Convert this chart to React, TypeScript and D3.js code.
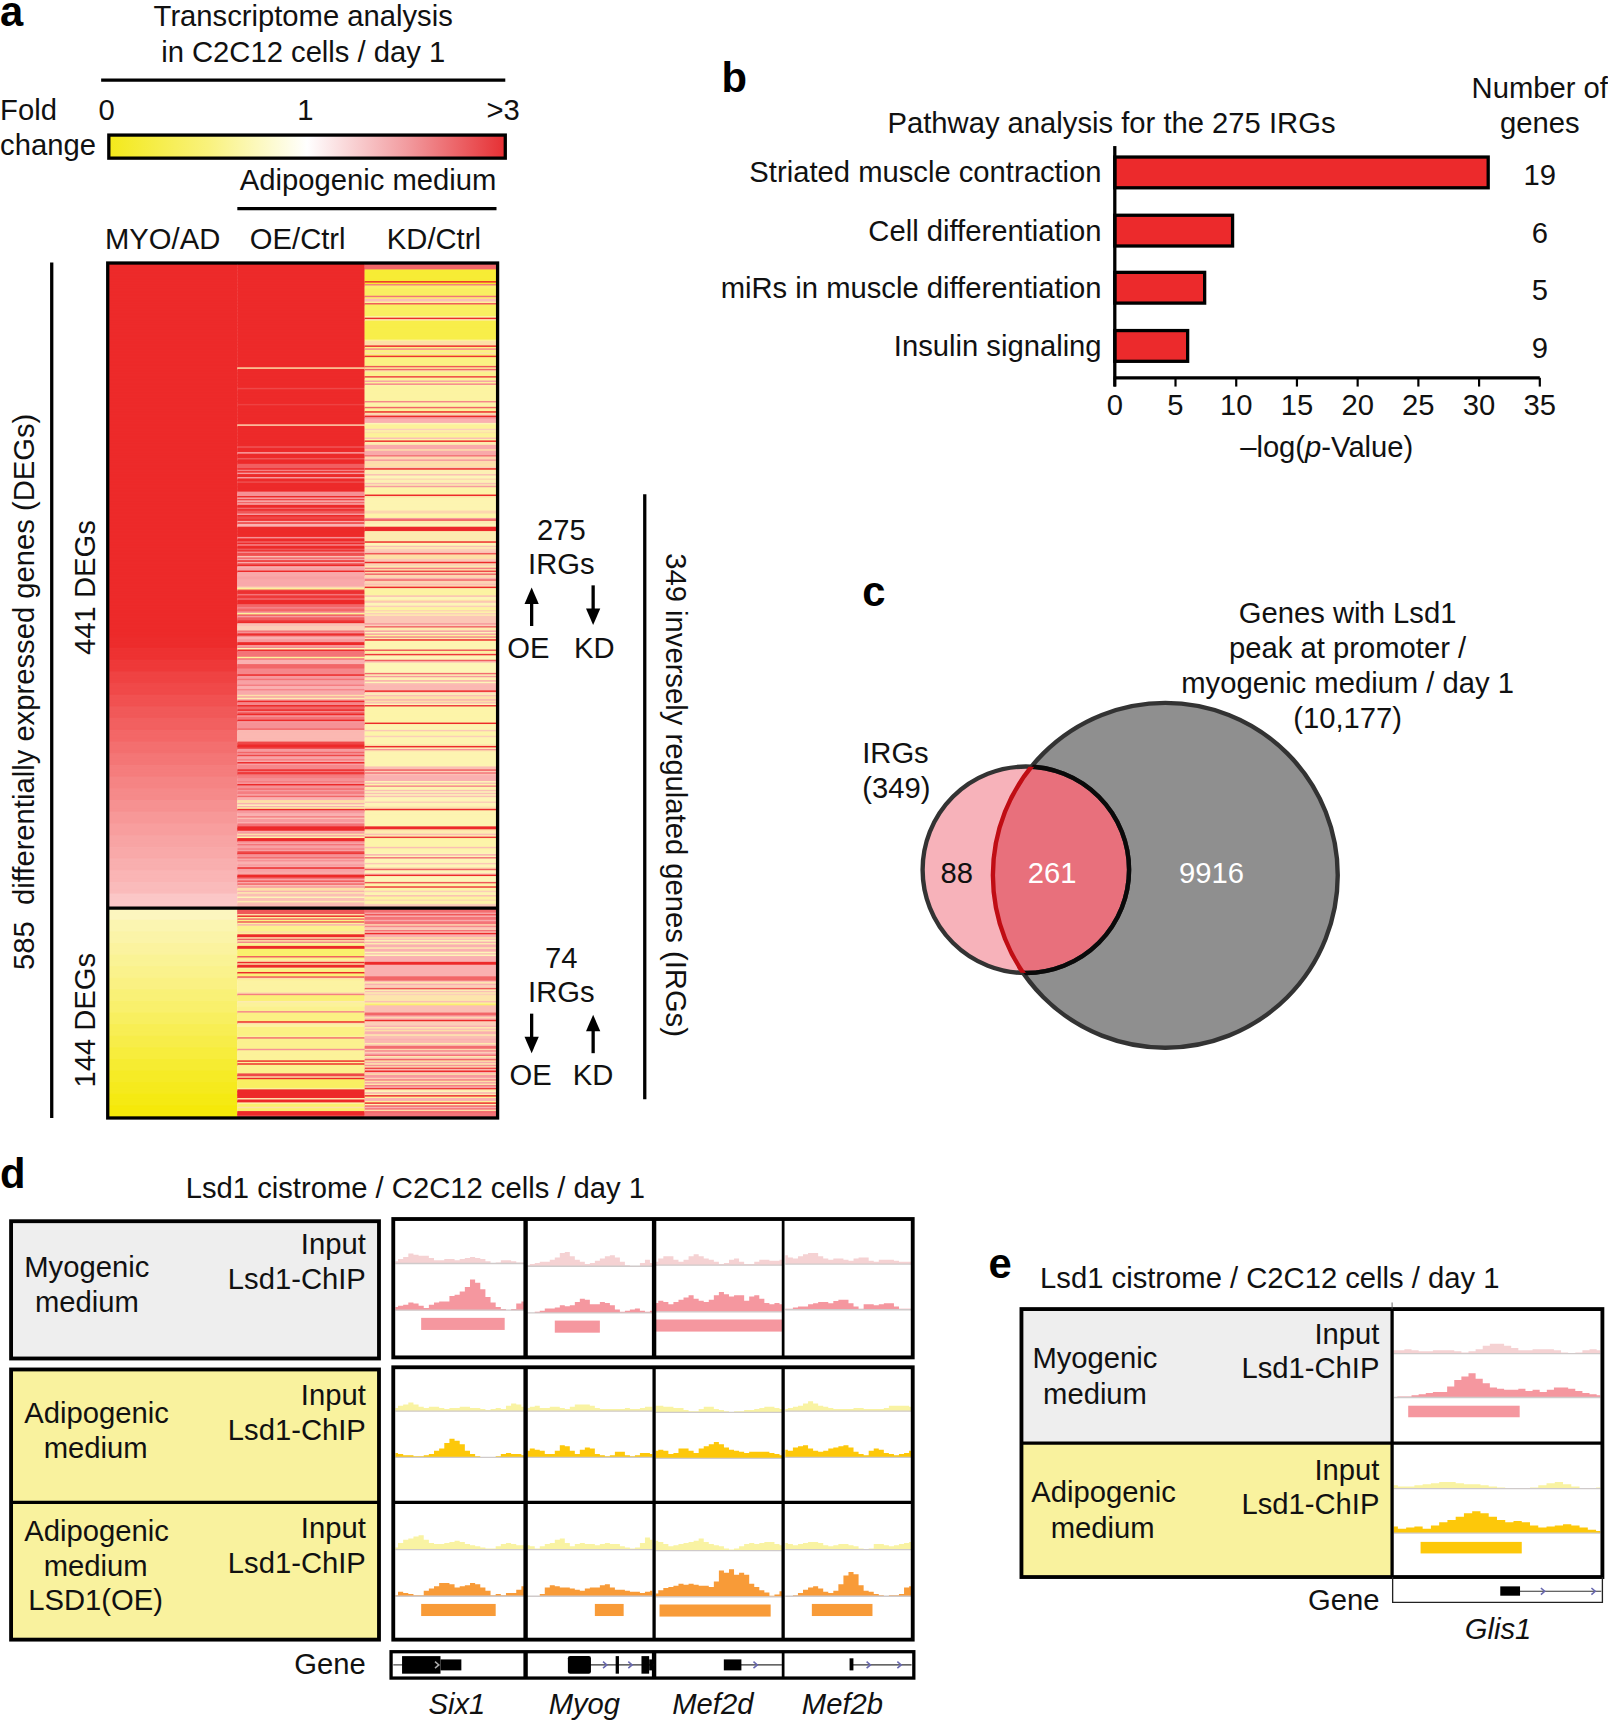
import React from 'react';
import * as d3 from 'd3';

// ---------- Panel a: fold change per gene, run-length coded as [genes, fold change]
const myoUp: [number, number][] = [[255,3],[8,2.98],[8,2.92],[8,2.85],[8,2.75],[8,2.68],[8,2.6],[8,2.52],[8,2.45],[8,2.38],[8,2.3],[8,2.22],[8,2.15],[8,2.08],[8,2.02],[8,1.95],[8,1.88],[8,1.82],[8,1.76],[8,1.7],[8,1.64],[8,1.58],[8,1.52],[10,1.4]];
const myoDown: [number, number][] = [[8,.78],[8,.72],[8,.68],[8,.64],[8,.6],[8,.56],[8,.52],[8,.47],[8,.42],[8,.37],[8,.32],[8,.27],[8,.22],[8,.17],[8,.12],[8,.08],[8,.04],[8,0]];
const oeUp: [number, number][] = [
[71,3],[1,.9],[13,3],[1,2.6],[10,3],[1,2.7],[13,3],[1,1],[14,3],[1,2.4],[3,3],[1,1.5],[3,3],[1,2.4],[3,3],
[3,2.3],[1,3],[1,1.9],[1,3],[1,1.6],[2,3],[1,1.6],[2,3],[1,2.5],[6,3],
[3,1.7],[1,3],[1,1.5],[1,2.6],[1,1.3],[1,2.2],[1,1.4],[2,3],[1,2.2],[1,3],[2,2.4],[1,1.6],[1,3],[2,2.6],[1,3],[1,1.4],[1,2.8],[2,1.3],[2,3],[5,3],[1,1.7],[2,3],[1,2.2],[1,3],[1,1.8],[2,3],[1,2.4],[1,2.9],[1,1.8],[2,2.5],
[1,1.2],[1,2.2],[1,1.5],[1,3],[1,1.4],[1,2.4],[1,3],[1,1.3],[2,1.5],[1,3],[3,1.4],[2,1.5],[5,1.4],[1,1],[1,.5],[1,2.7],
[2,2.9],[1,2],[2,2.8],[1,2.1],[3,3],[2,2.2],[1,1.8],[2,2.2],[1,1.6],[1,.5],[1,2.3],[1,1.6],[2,2.3],[1,2.8],[1,3],
[2,1.2],[3,1.1],[1,2],[1,1.7],[1,3],[1,2.5],[2,1.3],[2,1.6],[2,3],[1,1.5],[1,1.8],[1,.7],[1,3],[4,2],[1,.5],[1,2],[3,1.3],
[3,2.2],[2,1.8],[2,1.8],[1,3],[2,1.6],[1,2],[3,1.5],[1,1.9],[2,1.3],[1,1.8],[3,1.4],[1,.9],[1,1.5],[1,.8],[1,1.5],[1,3],
[2,1.8],[1,3],[2,2.2],[1,3],[1,1.8],[1,2.4],[1,3],[1,1.6],[2,2],[1,3],[1,1.6],[4,1.7],[1,2.2],[8,1.25],[2,2.6],[2,3],[1,2.6],
[2,1.6],[1,2.2],[1,1.6],[1,2.6],[2,1.5],[1,1.9],[1,1.4],[1,3],[1,1.5],[3,1.8],[1,3],[1,2],[1,3],[1,2.2],
[2,1.9],[2,1.7],[1,1.9],[1,1.6],[1,3],[2,1.7],[1,2.1],[1,1.6],[2,1.9],[1,1.4],[1,2.2],[2,1.3],
[2,.9],[1,1.3],[1,.7],[1,1.3],[1,.6],[1,3],[2,1.6],[2,1.3],[1,1.9],[1,1.2],[2,1.6],[1,1.3],[2,2],[3,3],
[1,1.4],[1,1.6],[1,.9],[1,1.5],[1,.6],[2,3],[1,1.9],[1,1.4],[1,2],[2,1.5],[1,1.9],[1,1.5],[1,2.5],[1,2.8],
[2,1.7],[1,2.1],[1,1.4],[1,1.7],[2,1.3],[1,1.6],[1,1.4],[1,3],[2,1.5],[2,1.4],[2,3],[1,2],[1,1.5],[1,2.4],[1,1.4],[1,2.2],[1,1.2],[1,1.6],
[2,.9],[1,1.3],[1,.8],[2,1.2],[1,.7],[2,1.2],[1,.8],[1,1.2],[3,1.25]];
const kdUp: [number, number][] = [
[4,2.2],[8,.12],[1,3],[1,.1],[1,1.9],[2,.3],[5,.25],[1,2],[1,.3],[2,1.2],[1,.5],[1,2.4],[8,.25],[1,.6],[1,3],[1,.8],[13,.18],[1,.5],[3,.9],[1,3],[1,.4],[1,1.8],[2,.4],[1,.9],[1,.3],[1,2.9],[6,.4],[1,2.4],[1,.5],[1,2.2],[1,.9],[3,.45],[1,2.7],[2,.5],[1,1.5],[1,.5],[1,1.8],[1,.6],[10,.55],[1,1.8],[3,.6],[1,2.2],[2,.5],[1,3],[1,.9],[1,1.1],[1,3],[1,1.7],[3,1.3],[1,.7],[3,.5],[1,1.1],[1,.6],[1,.9],[3,.5],[1,1.2],[1,.6],[1,3],
[2,.8],[3,1.4],[1,.9],[3,1.4],[1,2],[2,1],[1,1.6],[2,.95],[2,.9],[1,1.1],[1,3],
[3,.75],[1,1.2],[2,.7],[1,1],[2,.75],[1,1.2],[1,.8],[1,1.6],[5,.6],[1,3],
[1,.9],[9,.65],[2,1],[3,.6],[1,1.6],[1,2.4],[2,.8],[2,.7],[3,3],[7,.8],[1,3],[2,.7],[1,1.2],[1,.75],[2,1.1],[1,1.2],[1,2.4],
[3,.9],[2,1.15],[1,3],[2,1.05],[1,.8],[1,1.9],[1,.9],[1,2.6],[1,1],[1,2.2],[2,1],[1,1.3],[1,2.2],[2,1.05],[1,1.2],[1,1],[1,3],
[1,.8],[4,.55],[1,1.2],[2,.7],[1,.9],[1,1.2],[2,.7],[1,1.1],[2,.55],[1,1],[1,.6],[1,1.1],[1,.8],
[5,1.15],[1,1.6],[1,1.1],[1,2.2],[2,.8],[1,1.5],[1,.7],[1,1.5],[1,.5],[1,1.8],[1,.8],[1,3],[6,.65],[1,2.4],[1,.5],[1,.8],[1,2.8],[3,.7],[1,2.3],[1,1.2],[1,.7],
[6,.7],[1,2.1],[1,.7],[1,1.6],[2,.75],[1,1.4],[1,.7],[1,1.2],[4,1.25],[1,3],
[1,1.1],[1,.7],[1,1.2],[2,.9],[1,1.3],[1,.9],[1,1.2],[1,.7],[1,2.8],[11,.6],[1,3],
[4,.65],[1,1.15],[3,.6],[1,1.1],[5,.65],[1,.9],[1,3],[1,.7],[1,1.7],[1,.8],[10,.65],
[2,1.2],[1,2.3],[1,1.1],[1,2],[1,1.2],[4,1.3],[1,.7],[1,1.2],[1,.6],[1,1.8],[2,.65],[1,1.2],[1,.7],
[1,1.2],[1,.7],[1,1.2],[3,.7],[1,1.1],[2,.7],[1,.8],[1,1],[1,3],[11,.65],[2,3],
[1,.9],[2,.8],[1,1.2],[1,.8],[1,2.8],[6,.6],[1,1.2],[1,.6],[2,.65],[1,.7],[1,1.3],[1,.7],[1,2],
[3,.7],[1,1.15],[2,.7],[1,1],[1,2.3],[2,.7],[1,1.1],[1,3],[4,.7],[1,2.4],[2,.6],[1,2.8],
[2,.6],[1,1.1],[2,.65],[1,1.2],[2,.55],[1,1],[2,.6],[1,1.1],[2,1.15]];
const oeDown: [number, number][] = [
[4,2.4],[1,.9],[1,3],[1,.5],[1,2.2],[1,.4],[1,2.4],[1,.5],[1,1.3],[4,.45],[1,.9],[1,.5],[2,3],[1,.9],[1,2.3],[1,.9],[1,1.8],[1,.5],[1,.45],[2,3],[5,.3],[1,2.3],[1,.4],[1,.5],[1,.9],[1,3],[1,.9],[2,3],[1,.5],[2,.4],[1,3],[2,.35],[1,2.4],[1,.9],[1,.5],[8,.55],[1,.95],[1,1.9],[4,.35],[1,.8],[3,.5],[3,.45],[1,1.8],[6,.4],[1,3],[1,.95],[2,.55],[6,.4],[1,.5],[1,2.1],[7,.45],[1,1.7],[7,.5],[1,3],[1,.5],[1,3],[6,.45],[2,2.6],[1,.9],[1,3],[6,.25],[1,.5],[6,3],[1,.8],[2,3],[1,.6],[2,.3],[1,.9],[2,.3],[3,3],[1,2.4]];
const kdDown: [number, number][] = [
[3,2.1],[1,1.5],[1,2.4],[1,1.3],[2,2],[1,1.4],[2,2],[1,1],[1,1.8],[1,1.2],[1,1.1],[1,2],[1,1.2],[1,3],[2,1.3],[1,.9],[1,1.2],[1,.7],[1,1.3],[1,.8],[2,1.3],[1,.8],[2,1.3],[1,.7],[1,1.2],[1,.7],[4,1.3],[2,3],[8,1.3],[3,2.2],[1,1.2],[1,.8],[1,1.3],[2,1.1],[1,2.4],[1,.7],[1,1.2],[1,.8],[1,1.1],[4,.85],[1,1.2],[1,.5],[1,.3],[5,1.2],[2,2.2],[1,1.3],[1,1],[1,1.3],[1,3],[3,1.1],[1,1.3],[1,.8],[1,1.2],[1,.9],[2,1.3],[1,.8],[2,1.2],[1,1.3],[2,1.25],[1,.8],[1,1.2],[2,2.1],[1,1],[1,1.8],[1,1.1],[1,1.3],[1,2],[1,.8],[1,1.2],[1,2.2],[1,.9],[1,1.4],[1,.8],[1,1.7],[1,1],[1,2.6],[1,1.2],[1,3],[1,1.3],[1,.9],[2,1.6],[1,1.1],[1,1.9],[1,.9],[1,1.5],[1,.85],[1,1.9],[1,1.3],[1,2.8],[1,.8],[1,.7],[1,1.3],[1,.8],[1,3],[1,.5],[2,1.3],[1,.5],[1,3],[1,.7],[1,2.2],[1,1.3],[1,2],[1,.9],[1,2.2],[2,2]];

const upGenes = 441;
const downGenes = 144;
const heatColumns = ['MYO/AD', 'OE/Ctrl', 'KD/Ctrl'];
const legendTicks = ['0', '1', '>3'];

// ---------- Panel b
const pathways = ['Striated muscle contraction', 'Cell differentiation', 'miRs in muscle differentiation', 'Insulin signaling'];
const pathwayLogP = [30.75, 9.7, 7.4, 6.0];
const pathwayGenes = [19, 6, 5, 9];
const logPTicks = [0, 5, 10, 15, 20, 25, 30, 35];

// ---------- Panel c
const vennOnlyIrg = 88;
const vennShared = 261;
const vennOnlyLsd1 = 9916;

// ---------- Panels d, e: coverage tracks
const geneNames = ['Six1', 'Myog', 'Mef2d', 'Mef2b'];
const myoInput = [
  [2,4,6,9,8,7,7,5,3,3,4,4,3,4,5,6,5,4,2,0,1,3,3,2,1,1],
  [1,2,3,4,4,6,8,12,13,9,6,4,2,3,5,7,9,10,8,4,1,0,0,3,6,3],
  [3,6,8,8,5,3,5,8,10,8,6,5,3,1,2,5,6,3,1,1,3,5,5,4,4,5],
  [8,6,5,7,9,10,10,7,5,4,5,5,4,3,5,6,6,3,2,4,4,4,3,2,2,2],
];
const myoChip = [
  [3,4,5,7,6,4,2,5,7,8,8,13,14,17,21,28,25,19,12,7,3,1,0,1,6,8],
  [0,0,1,2,4,4,5,7,6,7,10,13,12,8,8,10,9,7,3,1,2,3,4,2,1,2],
  [8,10,9,7,9,11,13,15,12,10,9,11,15,18,16,14,15,15,10,14,15,12,8,7,8,7],
  [1,1,2,3,3,5,6,7,7,6,8,9,9,6,3,1,5,5,4,5,6,6,3,1,1,1],
];
const adiInput = [
  [3,5,6,8,6,4,3,4,4,3,2,3,3,4,4,3,3,2,1,2,3,2,5,7,6,4],
  [3,4,5,3,3,4,4,3,2,4,6,6,6,5,3,2,2,2,2,2,3,2,2,3,4,4],
  [6,6,5,5,4,4,2,1,1,3,5,5,3,2,1,0,1,1,2,2,3,4,5,5,4,3],
  [2,3,4,5,7,9,7,5,4,3,2,2,2,2,3,3,2,2,2,2,3,5,5,5,5,4],
];
const adiChip = [
  [4,3,2,2,1,1,2,3,6,8,13,17,15,12,6,3,1,0,0,0,1,3,4,3,3,2],
  [6,8,7,6,3,3,6,11,10,6,3,7,9,8,3,2,1,2,5,5,2,1,2,4,4,3],
  [7,8,7,4,5,9,9,7,5,9,11,13,15,13,10,8,7,6,5,6,6,6,6,5,4,3],
  [7,6,9,10,11,8,6,5,6,8,9,10,11,9,5,3,2,6,8,7,4,3,2,3,4,6],
];
const oeInput = [
  [2,6,9,10,12,13,9,6,5,5,6,7,8,7,5,4,3,2,1,1,3,5,6,5,4,4],
  [4,3,1,3,5,6,9,10,6,3,5,6,5,5,4,5,6,5,5,3,2,1,2,6,11,9],
  [9,8,6,4,5,6,7,8,9,11,8,6,5,4,2,1,2,4,6,7,6,7,8,8,6,5],
  [6,5,4,5,6,7,7,6,4,3,4,5,5,4,3,1,0,1,5,5,4,3,4,5,6,7],
];
const oeChip = [
  [1,4,3,2,1,1,5,7,9,12,12,11,8,9,10,12,11,8,5,1,2,1,3,3,6,9],
  [0,0,0,2,8,10,9,8,8,7,6,5,7,8,8,10,11,8,6,6,5,4,4,3,4,5],
  [3,6,8,9,10,12,11,12,11,10,10,9,14,24,22,25,20,22,20,12,9,6,4,1,2,5],
  [0,0,1,3,6,8,9,7,4,3,5,11,19,22,20,10,5,4,2,1,0,1,1,2,8,9],
];
// called peaks, percent of the window
const myoPeaks: ([number, number] | null)[] = [[20, 85], [22, 58], [0, 100], null];
const oePeaks: ([number, number] | null)[] = [[20, 78], [54, 77], [3, 91], [21, 69]];

const glisMyoInput = [3,3,4,3,2,2,3,3,3,2,1,2,4,7,9,9,7,5,3,3,4,4,4,3,1,0,1,3,4,3];
const glisMyoChip = [0,1,1,2,3,4,5,5,10,16,19,22,17,13,9,8,7,7,8,6,7,5,7,9,9,8,6,4,3,2];
const glisAdiInput = [3,2,2,3,4,5,6,6,5,4,4,3,2,1,0,0,0,1,3,5,6,4,2,0,0,1];
const glisAdiChip = [6,4,5,6,4,7,10,12,15,18,20,18,15,12,10,11,10,7,5,6,7,8,7,5,3,2];
const glisMyoPeak: [number, number] = [7, 61];
const glisAdiPeak: [number, number] = [13, 62];

// ---------- Helpers
const FONT = '"Liberation Sans", Arial, sans-serif';
const FS = 26.6;

const expand = (runs: [number, number][], n: number) => {
  const out: number[] = [];
  runs.forEach(([c, v]) => { for (let i = 0; i < c; i++) out.push(v); });
  while (out.length < n) out.push(out[out.length - 1]);
  return out.slice(0, n);
};

const stripeColor = d3.scaleLinear<string>()
  .domain([0, .25, .5, .7, .9, 1.1, 1.3, 1.6, 2, 2.5, 3])
  .range(['#f6ea0c', '#f9ef62', '#fcf29a', '#fdf5b8', '#fde0a8', '#fcceb8', '#fab0b0', '#f79a9e', '#f47478', '#ef5050', '#ed2a2a'])
  .clamp(true);
const myoColor = d3.scaleLinear<string>()
  .domain([0, .8, 1, 3]).range(['#f5e90a', '#fcf6c4', '#ffeeee', '#ed2a2a']);

const T = ({ x, y, a = 'start', s = FS, w, i, f = '#111', rot, children }: any) => (
  <text x={x} y={y} textAnchor={a} fontSize={s} fontWeight={w} fontStyle={i ? 'italic' : undefined} fill={f}
    fontFamily={FONT} transform={rot != null ? `rotate(${rot} ${x} ${y})` : undefined}>{children}</text>
);

const Arrow = ({ x, y0, y1 }: { x: number; y0: number; y1: number }) => {
  const d = y1 > y0 ? 1 : -1;
  return (
    <g>
      <line x1={x} x2={x} y1={y0} y2={y1 - d * 10} stroke="#000" strokeWidth={3} />
      <path d={`M${x - 6.5} ${y1 - d * 15}L${x + 6.5} ${y1 - d * 15}L${x} ${y1}Z`} fill="#000" />
    </g>
  );
};

const Track = ({ values, x0, x1, base, color }: { values: number[]; x0: number; x1: number; base: number; color: string }) => {
  const xs = d3.scaleLinear().domain([0, values.length - 1]).range([x0, x1]);
  const ys = d3.scaleLinear().domain([0, 30]).range([base, base - 30]);
  const area = d3.area<number>().x((_, i) => xs(i)).y0(base).y1(v => ys(v)).curve(d3.curveStep);
  return (
    <g>
      <path d={area(values) || ''} fill={color} />
      <line x1={x0} x2={x1} y1={base} y2={base} stroke="#cfcaca" strokeWidth={1.2} />
    </g>
  );
};

const Peak = ({ peak, x0, x1, top, h, color }: any) => {
  if (!peak) return null;
  const xs = d3.scaleLinear().domain([0, 100]).range([x0, x1]);
  return <rect x={xs(peak[0])} y={top} width={xs(peak[1]) - xs(peak[0])} height={h} fill={color} />;
};

const Chev = ({ x, y, c = '#6868b0' }: { x: number; y: number; c?: string }) => (
  <path d={`M${x - 2} ${y - 3}L${x + 1.5} ${y}L${x - 2} ${y + 3}`} fill="none" stroke={c} strokeWidth={1.4} />
);

const PINK_IN = '#f5d2d3', PINK = '#f5979f', YEL_IN = '#f9f3a3', GOLD = '#fdc80a', ORANGE = '#f89b38';

export default function App() {
  // ----- heat map
  const yUp = d3.scaleLinear().domain([0, upGenes]).range([240, 827]);
  const yDown = d3.scaleLinear().domain([0, downGenes]).range([827, 1017]);
  const colEdges = [99, 216, 332, 452];

  const columnData = [
    { up: expand(myoUp, upGenes), down: expand(myoDown, downGenes), color: myoColor },
    { up: expand(oeUp, upGenes), down: expand(oeDown, downGenes), color: stripeColor },
    { up: expand(kdUp, upGenes), down: expand(kdDown, downGenes), color: stripeColor },
  ];

  // ----- bars
  const xB = d3.scaleLinear().domain([0, 35]).range([1015, 1402]);
  const barTops = [143, 196, 248, 301];
  const barH = 28;

  // ----- track windows (d)
  const windows: [number, number][] = [[360, 477], [480, 594], [597, 712], [715, 830]];
  const myoIn = [1150.5, 1153, 1152, 1151];
  const myoCh = [1193, 1195.5, 1194.5, 1192.6];
  const adiIn = [1285, 1285, 1286, 1285];
  const adiCh = [1327, 1327, 1328, 1327];
  const oeIn = [1411, 1411, 1412, 1411];
  const oeCh = [1453.5, 1453.5, 1454, 1453.5];
  const geneCenters = [416, 532, 649, 767];

  return (
    <svg width={1608} height={1722} viewBox="0 0 1464 1568" style={{ position: 'absolute', left: 0, top: 0, background: '#fff' }}>
      <defs>
        <linearGradient id="foldGrad">
          <stop offset="0" stopColor="#f3e91a" />
          <stop offset="0.25" stopColor="#f9f27c" />
          <stop offset="0.5" stopColor="#ffffff" />
          <stop offset="0.75" stopColor="#f29ca0" />
          <stop offset="1" stopColor="#e62f33" />
        </linearGradient>
        <clipPath id="bigClip"><circle cx={1061} cy={797} r={157} /></clipPath>
        <clipPath id="smallClip"><circle cx={934} cy={792} r={94} /></clipPath>
      </defs>

      {/* ---------- a ---------- */}
      <T x={0} y={24} s={38} w="bold" f="#000">a</T>
      <T x={276} y={24} a="middle">Transcriptome analysis</T>
      <T x={276} y={56} a="middle">in C2C12 cells / day 1</T>
      <line x1={92} x2={460} y1={73} y2={73} stroke="#000" strokeWidth={3} />
      <T x={0} y={109}>Fold</T>
      <T x={0} y={141}>change</T>
      <T x={97} y={109} a="middle">{legendTicks[0]}</T>
      <T x={278} y={109} a="middle">{legendTicks[1]}</T>
      <T x={458} y={109} a="middle">{legendTicks[2]}</T>
      <rect x={99} y={123} width={361} height={21} fill="url(#foldGrad)" stroke="#000" strokeWidth={3} />
      <T x={335} y={173} a="middle">Adipogenic medium</T>
      <line x1={216} x2={452} y1={190} y2={190} stroke="#000" strokeWidth={3} />
      <T x={148} y={227} a="middle">{heatColumns[0]}</T>
      <T x={271} y={227} a="middle">{heatColumns[1]}</T>
      <T x={395} y={227} a="middle">{heatColumns[2]}</T>

      {columnData.map((col, c) => {
        const x = colEdges[c];
        const w = colEdges[c + 1] - colEdges[c];
        return (
          <g key={heatColumns[c]}>
            {col.up.map((v, i) => (
              <rect key={i} x={x} y={yUp(i)} width={w} height={yUp(i + 1) - yUp(i) + 1} fill={col.color(v)} />
            ))}
            {col.down.map((v, i) => (
              <rect key={i} x={x} y={yDown(i)} width={w} height={yDown(i + 1) - yDown(i) + 1} fill={col.color(v)} />
            ))}
          </g>
        );
      })}
      <rect x={98} y={239.5} width={355} height={778.5} fill="none" stroke="#000" strokeWidth={3} />
      <line x1={98} x2={453} y1={827} y2={827} stroke="#000" strokeWidth={3} />

      <line x1={47} x2={47} y1={239} y2={1018} stroke="#000" strokeWidth={3} />
      <T x={31} y={630} a="middle" rot={-90}>{'585\u00A0\u00A0differentially expressed genes (DEGs)'}</T>
      <T x={86} y={535} a="middle" rot={-90}>441 DEGs</T>
      <T x={86} y={929} a="middle" rot={-90}>144 DEGs</T>

      <T x={511} y={492} a="middle">275</T>
      <T x={511} y={523} a="middle">IRGs</T>
      <Arrow x={484} y0={570} y1={535} />
      <Arrow x={540} y0={533} y1={569} />
      <T x={481} y={599} a="middle">OE</T>
      <T x={541} y={599} a="middle">KD</T>
      <T x={511} y={881} a="middle">74</T>
      <T x={511} y={912} a="middle">IRGs</T>
      <Arrow x={484} y0={923} y1={959} />
      <Arrow x={540} y0={959} y1={924} />
      <T x={483} y={988} a="middle">OE</T>
      <T x={540} y={988} a="middle">KD</T>
      <line x1={587} x2={587} y1={450} y2={1001} stroke="#000" strokeWidth={3} />
      <T x={606} y={724} a="middle" rot={90}>349 inversely regulated genes (IRGs)</T>

      {/* ---------- b ---------- */}
      <T x={657} y={84} s={38} w="bold" f="#000">b</T>
      <T x={1012} y={121} a="middle">Pathway analysis for the 275 IRGs</T>
      <T x={1402} y={89} a="middle">Number of</T>
      <T x={1402} y={121} a="middle">genes</T>
      {pathways.map((p, i) => (
        <g key={p}>
          <rect x={xB(0)} y={barTops[i]} width={xB(pathwayLogP[i]) - xB(0)} height={barH} fill="#ec2a2c" stroke="#000" strokeWidth={3} />
          <T x={1003} y={barTops[i] + 23} a="end">{p}</T>
          <T x={1402} y={barTops[i] + 25} a="middle">{pathwayGenes[i]}</T>
        </g>
      ))}
      <line x1={1015} x2={1015} y1={133} y2={352} stroke="#000" strokeWidth={3} />
      <line x1={1014} x2={1402} y1={344} y2={344} stroke="#000" strokeWidth={3} />
      {logPTicks.map(t => (
        <g key={t}>
          <line x1={xB(t)} x2={xB(t)} y1={344} y2={352} stroke="#000" strokeWidth={2} />
          <T x={xB(t)} y={378} a="middle">{t}</T>
        </g>
      ))}
      <text x={1208} y={416} textAnchor="middle" fontSize={FS} fontFamily={FONT} fill="#111">
        –log(<tspan fontStyle="italic">p</tspan>-Value)
      </text>

      {/* ---------- c ---------- */}
      <T x={785} y={552} s={38} w="bold" f="#000">c</T>
      <T x={1227} y={567} a="middle">Genes with Lsd1</T>
      <T x={1227} y={599} a="middle">peak at promoter /</T>
      <T x={1227} y={631} a="middle">myogenic medium / day 1</T>
      <T x={1227} y={663} a="middle">(10,177)</T>
      <T x={785} y={695}>IRGs</T>
      <T x={785} y={727}>(349)</T>
      <circle cx={1061} cy={797} r={157} fill="#8f8f8f" stroke="#333" strokeWidth={4} />
      <circle cx={934} cy={792} r={94} fill="#f7b2ba" />
      <circle cx={934} cy={792} r={94} fill="#e8707c" clipPath="url(#bigClip)" />
      <circle cx={934} cy={792} r={94} fill="none" stroke="#333" strokeWidth={4} />
      <circle cx={934} cy={792} r={94} fill="none" stroke="#0a0a0a" strokeWidth={4} clipPath="url(#bigClip)" />
      <circle cx={1061} cy={797} r={157} fill="none" stroke="#c00d14" strokeWidth={4} clipPath="url(#smallClip)" />
      <T x={871} y={804} a="middle">{vennOnlyIrg}</T>
      <T x={958} y={804} a="middle" f="#fff">{vennShared}</T>
      <T x={1103} y={804} a="middle" f="#fff">{vennOnlyLsd1}</T>

      {/* ---------- d ---------- */}
      <T x={0} y={1082} s={38} w="bold" f="#000">d</T>
      <T x={169} y={1091}>Lsd1 cistrome / C2C12 cells / day 1</T>
      <rect x={10} y={1112} width={335} height={125} fill="#eeeeee" stroke="#000" strokeWidth={3.5} />
      <rect x={10} y={1247} width={335} height={246} fill="#f9f29e" stroke="#000" strokeWidth={3.5} />
      <line x1={10} x2={345} y1={1368} y2={1368} stroke="#000" strokeWidth={3} />
      <T x={22} y={1163}>Myogenic</T>
      <T x={79} y={1195} a="middle">medium</T>
      <T x={333} y={1142} a="end">Input</T>
      <T x={333} y={1174} a="end">Lsd1-ChIP</T>
      <T x={22} y={1296}>Adipogenic</T>
      <T x={87} y={1328} a="middle">medium</T>
      <T x={333} y={1279} a="end">Input</T>
      <T x={333} y={1311} a="end">Lsd1-ChIP</T>
      <T x={22} y={1403}>Adipogenic</T>
      <T x={87} y={1435} a="middle">medium</T>
      <T x={87} y={1466} a="middle">LSD1(OE)</T>
      <T x={333} y={1400} a="end">Input</T>
      <T x={333} y={1432} a="end">Lsd1-ChIP</T>
      <T x={333} y={1524} a="end">Gene</T>

      {geneNames.map((g, i) => {
        const [x0, x1] = windows[i];
        return (
          <g key={g}>
            <Track values={myoInput[i]} x0={x0} x1={x1} base={myoIn[i]} color={PINK_IN} />
            <Track values={myoChip[i]} x0={x0} x1={x1} base={myoCh[i]} color={PINK} />
            <Peak peak={myoPeaks[i]} x0={x0} x1={x1} top={myoCh[i] + 7} h={11} color={PINK} />
            <Track values={adiInput[i]} x0={x0} x1={x1} base={adiIn[i]} color={YEL_IN} />
            <Track values={adiChip[i]} x0={x0} x1={x1} base={adiCh[i]} color={GOLD} />
            <Track values={oeInput[i]} x0={x0} x1={x1} base={oeIn[i]} color={YEL_IN} />
            <Track values={oeChip[i]} x0={x0} x1={x1} base={oeCh[i]} color={ORANGE} />
            <Peak peak={oePeaks[i]} x0={x0} x1={x1} top={oeCh[i] + 7} h={11} color={ORANGE} />
            <T x={geneCenters[i]} y={1561} a="middle" i>{g}</T>
          </g>
        );
      })}
      <rect x={358} y={1110} width={473} height={126} fill="none" stroke="#000" strokeWidth={3.5} />
      <rect x={358} y={1245} width={473} height={248} fill="none" stroke="#000" strokeWidth={3.5} />
      <line x1={358} x2={831} y1={1368} y2={1368} stroke="#000" strokeWidth={3} />
      <rect x={356} y={1504} width={476} height={24} fill="none" stroke="#000" strokeWidth={3} />
      {[478.5, 595.5, 713].map((x, i) => (
        <g key={x}>
          <line x1={x} x2={x} y1={1110} y2={1236} stroke="#000" strokeWidth={i === 2 ? 2.5 : 4} />
          <line x1={x} x2={x} y1={1245} y2={1493} stroke="#000" strokeWidth={i === 0 ? 4 : 3} />
          <line x1={x} x2={x} y1={1504} y2={1528} stroke="#000" strokeWidth={i === 2 ? 2.5 : 4} />
        </g>
      ))}
      {/* gene models */}
      <line x1={358} x2={370} y1={1516} y2={1516} stroke="#333" strokeWidth={1} />
      <rect x={366} y={1508} width={35} height={16} fill="#000" />
      <rect x={401} y={1511} width={19} height={10} fill="#000" />
      <Chev x={398} y={1516} c="#aaa" />
      <line x1={530} x2={595} y1={1516} y2={1516} stroke="#333" strokeWidth={1} />
      <rect x={517} y={1508} width={21} height={16} rx={2} fill="#000" />
      <rect x={560.5} y={1508} width={3} height={16} fill="#000" />
      <rect x={584} y={1508} width={7} height={16} fill="#000" />
      <rect x={591} y={1511} width={4} height={10} fill="#000" />
      <Chev x={551} y={1516} />
      <Chev x={574} y={1516} />
      <line x1={665} x2={712} y1={1516} y2={1516} stroke="#333" strokeWidth={1} />
      <rect x={659} y={1511} width={16} height={10} fill="#000" />
      <Chev x={688} y={1516} />
      <line x1={775} x2={830} y1={1516} y2={1516} stroke="#333" strokeWidth={1} />
      <rect x={773.5} y={1510} width={3.5} height={11} fill="#000" />
      <Chev x={791} y={1516} />
      <Chev x={819} y={1516} />

      {/* ---------- e ---------- */}
      <T x={900} y={1164} s={38} w="bold" f="#000">e</T>
      <T x={947} y={1173}>Lsd1 cistrome / C2C12 cells / day 1</T>
      <rect x={930} y={1192} width={337} height={122} fill="#eeeeee" />
      <rect x={930} y={1314} width={337} height={122} fill="#f9f29e" />
      <Track values={glisMyoInput} x0={1269} x1={1457} base={1232.5} color={PINK_IN} />
      <Track values={glisMyoChip} x0={1269} x1={1457} base={1272.5} color={PINK} />
      <Peak peak={glisMyoPeak} x0={1269} x1={1457} top={1280} h={10.5} color={PINK} />
      <Track values={glisAdiInput} x0={1269} x1={1457} base={1355.5} color={YEL_IN} />
      <Track values={glisAdiChip} x0={1269} x1={1457} base={1396} color={GOLD} />
      <Peak peak={glisAdiPeak} x0={1269} x1={1457} top={1404} h={10.5} color={GOLD} />
      <rect x={930} y={1192} width={529} height={244} fill="none" stroke="#000" strokeWidth={3.5} />
      <line x1={930} x2={1459} y1={1314} y2={1314} stroke="#000" strokeWidth={3} />
      <line x1={1267.5} x2={1267.5} y1={1192} y2={1436} stroke="#000" strokeWidth={3} />
      <line x1={1267.5} x2={1267.5} y1={1186} y2={1192} stroke="#555" strokeWidth={0.8} />
      <path d="M1268 1436V1459H1459V1436" fill="none" stroke="#222" strokeWidth={1.2} />
      <T x={940} y={1246}>Myogenic</T>
      <T x={997} y={1278} a="middle">medium</T>
      <T x={1256} y={1224} a="end">Input</T>
      <T x={1256} y={1255} a="end">Lsd1-ChIP</T>
      <T x={939} y={1368}>Adipogenic</T>
      <T x={1004} y={1400} a="middle">medium</T>
      <T x={1256} y={1348} a="end">Input</T>
      <T x={1256} y={1379} a="end">Lsd1-ChIP</T>
      <T x={1256} y={1466} a="end">Gene</T>
      <line x1={1375} x2={1458} y1={1449} y2={1449} stroke="#333" strokeWidth={1} />
      <rect x={1366} y={1444.5} width={18} height={8.5} fill="#000" />
      <Chev x={1405} y={1449} />
      <Chev x={1451} y={1449} />
      <T x={1364} y={1492} a="middle" i>Glis1</T>
    </svg>
  );
}
